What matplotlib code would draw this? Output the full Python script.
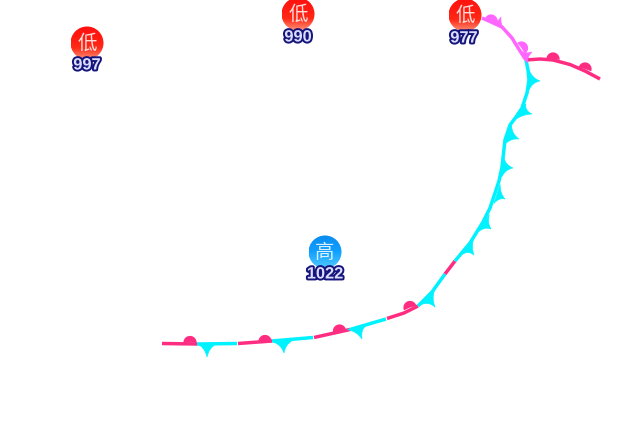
import numpy as np
import matplotlib
matplotlib.use("Agg")
import matplotlib.pyplot as plt
from matplotlib.patches import Circle, PathPatch, Wedge
from matplotlib.path import Path
from matplotlib.colors import LinearSegmentedColormap
import matplotlib.patheffects as pe

PINK = "#ff2d82"
CYAN = "#00f2ff"
MAGENTA = "#ff66ff"

# pressure centres
center_x = [87, 298, 465, 325]
center_y = [43, 14, 15, 252]
center_kind = ["低", "低", "低", "高"]
center_value = ["997", "990", "977", "1022"]
label_x = [87, 298, 464, 325]
label_y = [65, 37, 38, 274]

# front segments
seg_colors = [PINK, CYAN, PINK, CYAN, PINK, CYAN, PINK, CYAN, PINK, CYAN, MAGENTA, PINK]
seg_x = [
    [162, 197], [197, 237], [238, 272], [272, 313], [314, 350], [350, 386], [387, 404, 418],
    [418, 432, 445], [445, 455],
    [455, 470, 483, 490, 495, 499, 502, 505, 510, 516, 522, 527, 529, 528, 526],
    [482, 490, 502, 512, 520, 526],
    [526, 540, 553, 570, 585, 600],
]
seg_y = [
    [343.5, 344], [344, 343.5], [343.5, 341], [341, 337.5], [337.5, 329.5], [329.5, 319], [318.5, 313, 306],
    [306, 292, 274], [274, 261],
    [261, 243, 222, 208, 193, 181, 167, 140, 125, 117, 108, 93, 80, 70, 60],
    [18, 21.5, 27, 38, 51, 60],
    [60, 59, 60, 64.5, 71, 79],
]

# barbs: base centre, tip, line direction at the base (degrees)
cold_bx = [207, 283, 357, 428, 468, 484, 497, 502.5, 508, 520, 529]
cold_by = [343.5, 341, 327, 297, 246, 223, 194, 167, 135, 112, 80]
cold_tx = [207, 284, 362, 435, 474, 491, 505, 513, 519, 532, 540]
cold_ty = [357, 353, 339, 307, 255, 229, 199, 168, 139, 114, 81]
cold_a = [0, -5, -15, -48, -55, -58, -72, -85, -70, -55, -90]
occl_bx = [498, 524]
occl_by = [26, 57]
occl_tx = [501, 532]
occl_ty = [17, 52]
occl_a = [30, 60]

# bumps: centre, orientation of the flat side, colour
bump_x = [190, 265, 339.5, 410, 491, 521.5, 553, 585]
bump_y = [342.5, 341.5, 331, 307.5, 21, 48, 59, 69]
bump_a = [0, 0, -10, -20, 15, 55, 3, 15]
bump_c = [PINK, PINK, PINK, PINK, MAGENTA, MAGENTA, PINK, PINK]

fig = plt.figure(figsize=(6.4, 4.4), dpi=100)
ax = fig.add_axes([0, 0, 1, 1])
ax.set_xlim(0, 640)
ax.set_ylim(440, 0)
ax.axis("off")

for c, xs, ys in zip(seg_colors, seg_x, seg_y):
    ax.plot(xs, ys, color=c, lw=2.5, solid_capstyle="butt", solid_joinstyle="round", zorder=2)


def barb(bx, by, tx, ty, a, color, half):
    b = np.array([bx, by], float)
    t = np.array([tx, ty], float)
    u = np.array([np.cos(np.radians(a)), np.sin(np.radians(a))])
    d = t - b
    p1, p2 = b + u * half, b - u * half
    c1 = b + d * 0.3 + u * half * 0.18
    c2 = b + d * 0.3 - u * half * 0.18
    path = Path([p1, c1, t, c2, p2, p1],
                [Path.MOVETO, Path.CURVE3, Path.CURVE3, Path.CURVE3, Path.CURVE3, Path.CLOSEPOLY])
    ax.add_patch(PathPatch(path, fc=color, ec=color, lw=0.5, zorder=3))


for x in zip(cold_bx, cold_by, cold_tx, cold_ty, cold_a):
    barb(*x, CYAN, 10)
for x in zip(occl_bx, occl_by, occl_tx, occl_ty, occl_a):
    barb(*x, MAGENTA, 7)

for x, y, a, c in zip(bump_x, bump_y, bump_a, bump_c):
    ax.add_patch(Wedge((x, y), 6.6, 175 + a, 365 + a, fc=c, ec="none", zorder=3))

red_map = LinearSegmentedColormap.from_list("r", ["#ff1010", "#ff1a10", "#ff2a18", "#ff8a70"])
blue_map = LinearSegmentedColormap.from_list("b", ["#0a8cf0", "#10a0ff", "#50c8ff"])
grad = np.linspace(0, 1, 64).reshape(-1, 1)
R = 16.5

for x, y, k, v, lx, ly in zip(center_x, center_y, center_kind, center_value, label_x, label_y):
    cmap = blue_map if k == "高" else red_map
    im = ax.imshow(grad, cmap=cmap, extent=(x - R, x + R, y + R, y - R), aspect="auto", zorder=4)
    im.set_clip_path(Circle((x, y), R, transform=ax.transData))
    ax.text(x, y, k, family=["Noto Sans CJK SC", "DejaVu Sans"], fontsize=14, color="#ffffffd8",
            ha="center", va="center", zorder=5)
    ax.text(lx, ly, v, family="Liberation Sans", fontsize=11.8, weight="bold", color="#dcdcff", ha="center", va="center",
            zorder=6, path_effects=[pe.withStroke(linewidth=2.8, foreground="#14147a")])

ax.set_xlim(0, 640)
ax.set_ylim(440, 0)
fig.savefig("out.png", dpi=100)
